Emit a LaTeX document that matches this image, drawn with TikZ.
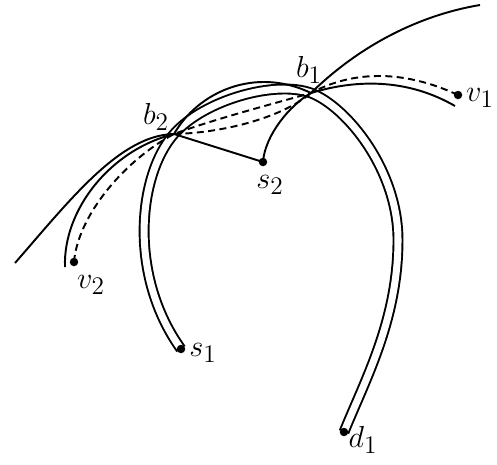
\documentclass[tikz,border=0pt]{standalone}
\usepackage{tikz}
\tikzset{
  vtx/.style={circle, fill=black, inner sep=0pt, minimum size=0.17cm},
  lbl/.style={font=\fontsize{19}{22}\selectfont, inner sep=0pt},
  rte/.style={line width=1.1pt},
  rail/.style={double, double distance=4pt, line width=1.1pt},
  dsh/.style={line width=1.1pt, dash pattern=on 4pt off 2.5pt}
}

\begin{document}
\begin{tikzpicture}[x=0.02cm, y=-0.02cm]
  \useasboundingbox (0,0) rectangle (497,464);
  \coordinate (b1) at (311,93);
  \coordinate (b2) at (174,134);
  \coordinate (s1) at (181,349);
  \coordinate (s2) at (263,162);
  \coordinate (v1) at (458,95);
  \coordinate (v2) at (74,262);
  \coordinate (d1) at (344,432);
  \coordinate (e1) at (15,263);
  \coordinate (e2) at (480,5);
  \coordinate (e3) at (65,267);
  \coordinate (e4) at (455,106);
  \draw[rail] (s1) .. controls (128,275) and (138,175) .. (b2) .. controls (204,100) and (275,80) .. (b1) .. controls (347,107) and (398,170) .. (398,240) .. controls (398,320) and (365,380) .. (d1);
  \draw[rte] (e1) .. controls (70,200) and (120,135) .. (b2) -- (s2) .. controls (265,135) and (290,105) .. (b1) .. controls (360,45) and (420,15) .. (e2);
  \draw[rte] (e3) .. controls (63,210) and (110,150) .. (b2) .. controls (198,92) and (255,66) .. (b1) .. controls (360,78) and (410,80) .. (e4);
  \draw[dsh] (v2) .. controls (78,215) and (125,160) .. (b2) .. controls (215,119) and (265,106) .. (b1) .. controls (350,72) and (400,68) .. (v1);
  \draw[dsh] (b2) .. controls (220,133) and (280,119) .. (b1);
  \node[vtx] (ns1) at (s1) {};
  \node[vtx] (ns2) at (s2) {};
  \node[vtx] (nv1) at (v1) {};
  \node[vtx] (nv2) at (v2) {};
  \node[vtx] (nd1) at (d1) {};
  \node[lbl] (lb1) at (309,70) {$b_1$};
  \node[lbl] (lb2) at (156,117) {$b_2$};
  \node[lbl] (lv1) at (480,98) {$v_1$};
  \node[lbl] (lv2) at (91,285) {$v_2$};
  \node[lbl] (ls2) at (270,185) {$s_2$};
  \node[lbl] (ls1) at (203,353) {$s_1$};
  \node[lbl] (ld1) at (363,440) {$d_1$};
\end{tikzpicture}
\end{document}
